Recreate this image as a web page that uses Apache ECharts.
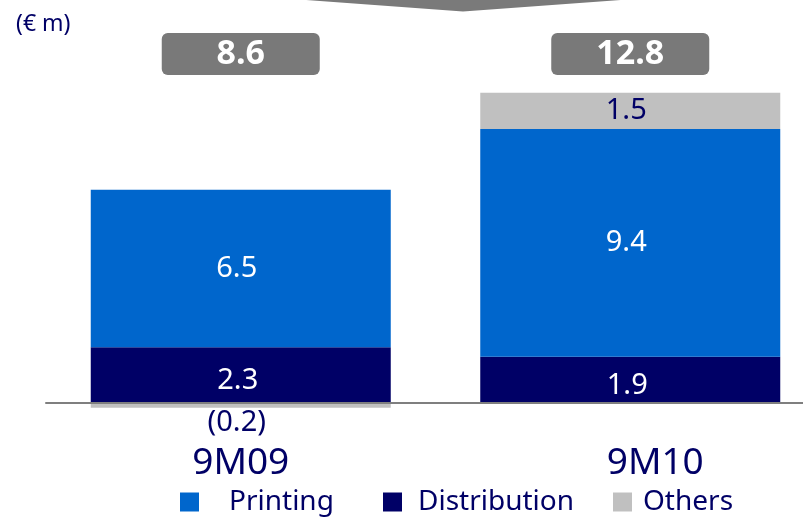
<!DOCTYPE html>
<html>
<head>
<meta charset="utf-8">
<script src="https://cdn.jsdelivr.net/npm/echarts@6/dist/echarts.min.js"></script>
<style>
  html, body { margin: 0; padding: 0; background: #ffffff; }
  #chart { width: 803px; height: 518px; }
</style>
</head>
<body>
<div id="chart"></div>
<script>
// Periods and segment values (€ m)
var categories = ['9M09', '9M10'];
var printing = [6.5, 9.4];
var distribution = [2.3, 1.9];
var others = [-0.2, 1.5];
var seriesNames = ['Printing', 'Distribution', 'Others'];
var unitLabel = '(€ m)';

var NAVY = '#000066';
var BLUE = '#0066CC';
var GREY = '#C0C0C0';
var FONT = 'Noto Sans';

// Totals per period, shown in the grey boxes above the bars
var totals = categories.map(function (c, i) {
  return (printing[i] + distribution[i] + others[i]).toFixed(1);
});

function fmt(v) {
  return v < 0 ? '(' + Math.abs(v).toFixed(1) + ')' : v.toFixed(1);
}

// Negative "Others" values carry their label below the bar
var othersData = others.map(function (v) {
  if (v < 0) {
    return { value: v, label: { position: 'bottom', distance: 1 } };
  }
  return { value: v };
});

// Horizontal nudge of each period label (left padding, right padding)
var periodLabelPad = [[0, 0], [50, 0]];
var periodData = categories.map(function (c, i) {
  return {
    value: c,
    textStyle: { padding: [0, periodLabelPad[i][1], 0, periodLabelPad[i][0]] }
  };
});

var chart = echarts.init(document.getElementById('chart'), null, { renderer: 'canvas' });

function legendItem(name, left, gap) {
  return {
    data: [name],
    left: left,
    top: 487,
    padding: 0,
    icon: 'rect',
    itemWidth: 19,
    itemHeight: 19,
    selectedMode: false,
    textStyle: {
      color: NAVY,
      fontSize: 28,
      lineHeight: 30,
      fontFamily: FONT,
      padding: [0, 0, 0, gap]
    }
  };
}

var option = {
  animation: false,
  backgroundColor: '#ffffff',
  color: [BLUE, NAVY, GREY],
  title: {
    text: unitLabel,
    left: 11,
    top: 8,
    textStyle: { color: NAVY, fontSize: 23, fontWeight: 'normal', fontFamily: FONT }
  },
  legend: [
    legendItem(seriesNames[0], 180, 25),
    legendItem(seriesNames[1], 383, 11),
    legendItem(seriesNames[2], 613, 6)
  ],
  graphic: [
    {
      type: 'polygon',
      shape: { points: [[279, -2], [463, 11.5], [648, -2]] },
      style: { fill: '#7a7a7a' }
    }
  ],
  grid: {
    left: 46, top: 83, width: 779, height: 332,
    containLabel: false,
    outerBoundsMode: 'none'
  },
  xAxis: [
    {
      type: 'category',
      data: periodData,
      axisLine: { onZero: true, lineStyle: { color: '#7f7f7f', width: 2 } },
      axisTick: { show: false },
      axisLabel: { color: NAVY, fontSize: 37, fontFamily: FONT, margin: 30 },
      z: 10
    },
    {
      type: 'category',
      position: 'top',
      data: totals,
      axisLine: { show: false },
      axisTick: { show: false },
      axisLabel: {
        margin: 29,
        color: '#ffffff',
        fontSize: 34,
        fontWeight: 'bold',
        fontFamily: FONT,
        backgroundColor: '#797979',
        borderRadius: 6,
        width: 158,
        height: 42,
        lineHeight: 42,
        align: 'center',
        verticalAlign: 'middle'
      }
    }
  ],
  yAxis: {
    type: 'value',
    min: -0.5,
    max: 13.2,
    show: false,
    splitLine: { show: false }
  },
  series: [
    {
      name: seriesNames[1],
      type: 'bar',
      stack: 'total',
      barWidth: 300,
      data: distribution,
      itemStyle: { color: NAVY },
      label: {
        show: true, position: 'inside', color: '#ffffff',
        fontSize: 29, fontFamily: FONT, offset: [-3, 6],
        formatter: function (p) { return fmt(p.value); }
      }
    },
    {
      name: seriesNames[0],
      type: 'bar',
      stack: 'total',
      barWidth: 300,
      data: printing,
      itemStyle: { color: BLUE },
      label: {
        show: true, position: 'inside', color: '#ffffff',
        fontSize: 29, fontFamily: FONT, offset: [-4, 0],
        formatter: function (p) { return fmt(p.value); }
      }
    },
    {
      name: seriesNames[2],
      type: 'bar',
      stack: 'total',
      barWidth: 300,
      data: othersData,
      itemStyle: { color: GREY },
      label: {
        show: true, position: 'inside', color: NAVY,
        fontSize: 29, fontFamily: FONT, offset: [-4, 0],
        formatter: function (p) { return fmt(p.value); }
      }
    }
  ]
};

chart.setOption(option);
</script>
</body>
</html>
